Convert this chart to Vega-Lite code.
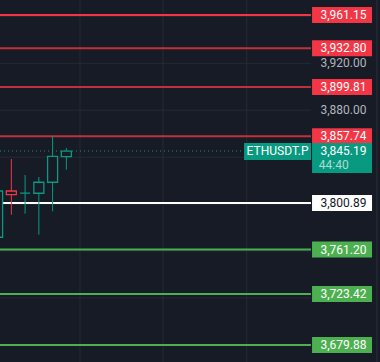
{
  "$schema": "https://vega.github.io/schema/vega-lite/v6.json",
  "width": 380,
  "height": 362,
  "padding": 0,
  "autosize": {"type": "none"},
  "background": "#171b26",
  "config": {"view": {"stroke": null}, "text": {"font": "Roboto", "fontSize": 12}, "scale": {"continuousPadding": 0}},
  "datasets": {
    "levels": [
      {"price": 3961.15, "lvl": "R4"},
      {"price": 3932.80, "lvl": "R3"},
      {"price": 3899.81, "lvl": "R2"},
      {"price": 3857.74, "lvl": "R1"},
      {"price": 3800.89, "lvl": "P"},
      {"price": 3761.20, "lvl": "S1"},
      {"price": 3723.42, "lvl": "S2"},
      {"price": 3679.88, "lvl": "S3"}
    ],
    "candles": [
      {"t": 0, "open": 3771.7, "close": 3811.15, "high": 3815.0, "low": 3765.0},
      {"t": 1, "open": 3811.15, "close": 3808.0, "high": 3838.4, "low": 3790.9},
      {"t": 2, "open": 3809.4, "close": 3809.4, "high": 3824.8, "low": 3791.8},
      {"t": 3, "open": 3809.2, "close": 3818.6, "high": 3823.1, "low": 3773.9},
      {"t": 4, "open": 3818.6, "close": 3840.7, "high": 3858.0, "low": 3793.8},
      {"t": 5, "open": 3840.4, "close": 3845.19, "high": 3847.8, "low": 3829.3}
    ],
    "grid": [
      {"price": 3960}, {"price": 3920}, {"price": 3880}, {"price": 3840},
      {"price": 3800}, {"price": 3760}, {"price": 3720}, {"price": 3680}
    ],
    "vgrid": [{"t": 5.99}, {"t": 12.03}, {"t": 18.12}],
    "axisLabels": [{"price": 3920}, {"price": 3880}],
    "last": [{"price": 3845.19, "symbol": "ETHUSDT.P", "countdown": "44:40"}]
  },
  "resolve": {"scale": {"color": "independent", "fill": "independent", "stroke": "independent"}},
  "layer": [
    {
      "data": {"name": "grid"},
      "mark": {"type": "rule", "color": "#262a35", "strokeWidth": 1},
      "encoding": {
        "y": {"field": "price", "type": "quantitative", "scale": {"domain": [3665.39, 3973.93], "nice": false, "zero": false, "padding": 0}, "axis": null},
        "x": {"datum": 0.175, "type": "quantitative", "scale": {"domain": [0.175, 27.811], "nice": false, "zero": false, "padding": 0}, "axis": null},
        "x2": {"datum": 22.79}
      }
    },
    {
      "data": {"name": "vgrid"},
      "mark": {"type": "rule", "color": "#262a35", "strokeWidth": 1},
      "encoding": {
        "x": {"field": "t", "type": "quantitative", "scale": {"domain": [0.175, 27.811], "nice": false, "zero": false, "padding": 0}, "axis": null}
      }
    },
    {
      "data": {"values": [{"t": 27.59}]},
      "mark": {"type": "rule", "color": "#2a2e39", "strokeWidth": 1},
      "encoding": {
        "x": {"field": "t", "type": "quantitative", "scale": {"domain": [0.175, 27.811], "nice": false, "zero": false, "padding": 0}, "axis": null}
      }
    },
    {
      "data": {"name": "axisLabels"},
      "mark": {"type": "text", "color": "#b2b5be", "align": "center", "baseline": "middle"},
      "encoding": {
        "y": {"field": "price", "type": "quantitative", "scale": {"domain": [3665.39, 3973.93], "nice": false, "zero": false, "padding": 0}, "axis": null},
        "x": {"datum": 25.15, "type": "quantitative", "scale": {"domain": [0.175, 27.811], "nice": false, "zero": false, "padding": 0}, "axis": null},
        "text": {"field": "price", "type": "quantitative", "format": ",.2f"}
      }
    },
    {
      "data": {"name": "levels"},
      "mark": {"type": "rule", "strokeWidth": 2},
      "encoding": {
        "y": {"field": "price", "type": "quantitative", "scale": {"domain": [3665.39, 3973.93], "nice": false, "zero": false, "padding": 0}, "axis": null},
        "x": {"datum": 0.175, "type": "quantitative", "scale": {"domain": [0.175, 27.811], "nice": false, "zero": false, "padding": 0}, "axis": null},
        "x2": {"datum": 22.79},
        "stroke": {"field": "lvl", "type": "nominal", "legend": null,
          "scale": {"domain": ["R4", "R3", "R2", "R1", "P", "S1", "S2", "S3"],
            "range": ["#f23645", "#c2303b", "#c2303b", "#c2303b", "#ffffff", "#4caf50", "#4caf50", "#4caf50"]}}
      }
    },
    {
      "data": {"name": "last"},
      "mark": {"type": "rule", "color": "#089981", "strokeWidth": 1, "strokeDash": [1, 3]},
      "encoding": {
        "y": {"field": "price", "type": "quantitative", "scale": {"domain": [3665.39, 3973.93], "nice": false, "zero": false, "padding": 0}, "axis": null},
        "x": {"datum": 0.175, "type": "quantitative", "scale": {"domain": [0.175, 27.811], "nice": false, "zero": false, "padding": 0}, "axis": null},
        "x2": {"datum": 17.92}
      }
    },
    {
      "data": {"name": "candles"},
      "mark": {"type": "rule", "strokeWidth": 1},
      "encoding": {
        "x": {"field": "t", "type": "quantitative", "scale": {"domain": [0.175, 27.811], "nice": false, "zero": false, "padding": 0}, "axis": null},
        "y": {"field": "low", "type": "quantitative", "scale": {"domain": [3665.39, 3973.93], "nice": false, "zero": false, "padding": 0}, "axis": null},
        "y2": {"field": "high"},
        "stroke": {"condition": {"test": "datum.close < datum.open", "value": "#f23645"}, "value": "#089981"}
      }
    },
    {
      "data": {"name": "candles"},
      "mark": {"type": "bar", "width": 10, "fill": "#171b26", "strokeWidth": 1.3},
      "encoding": {
        "x": {"field": "t", "type": "quantitative", "scale": {"domain": [0.175, 27.811], "nice": false, "zero": false, "padding": 0}, "axis": null},
        "y": {"field": "open", "type": "quantitative", "scale": {"domain": [3665.39, 3973.93], "nice": false, "zero": false, "padding": 0}, "axis": null},
        "y2": {"field": "close"},
        "stroke": {"condition": {"test": "datum.close < datum.open", "value": "#f23645"}, "value": "#089981"}
      }
    },
    {
      "data": {"name": "levels"},
      "mark": {"type": "point", "filled": true, "opacity": 1, "size": 3600, "shape": "M-1,-0.267H1V0.267H-1Z"},
      "encoding": {
        "y": {"field": "price", "type": "quantitative", "scale": {"domain": [3665.39, 3973.93], "nice": false, "zero": false, "padding": 0}, "axis": null},
        "x": {"datum": 25.05, "type": "quantitative", "scale": {"domain": [0.175, 27.811], "nice": false, "zero": false, "padding": 0}, "axis": null},
        "fill": {"field": "lvl", "type": "nominal", "legend": null,
          "scale": {"domain": ["R4", "R3", "R2", "R1", "P", "S1", "S2", "S3"],
            "range": ["#f23645", "#f23645", "#f23645", "#f23645", "#ffffff", "#4caf50", "#4caf50", "#4caf50"]}}
      }
    },
    {
      "data": {"name": "levels"},
      "mark": {"type": "text", "align": "center", "baseline": "middle"},
      "encoding": {
        "y": {"field": "price", "type": "quantitative", "scale": {"domain": [3665.39, 3973.93], "nice": false, "zero": false, "padding": 0}, "axis": null},
        "x": {"datum": 25.15, "type": "quantitative", "scale": {"domain": [0.175, 27.811], "nice": false, "zero": false, "padding": 0}, "axis": null},
        "text": {"field": "price", "type": "quantitative", "format": ",.2f"},
        "color": {"field": "lvl", "type": "nominal", "legend": null,
          "scale": {"domain": ["R4", "R3", "R2", "R1", "P", "S1", "S2", "S3"],
            "range": ["#ffffff", "#ffffff", "#ffffff", "#ffffff", "#131722", "#ffffff", "#ffffff", "#ffffff"]}}
      }
    },
    {
      "data": {"name": "last"},
      "mark": {"type": "point", "filled": true, "opacity": 1, "size": 3600, "shape": "M-1,-0.267H1V0.733H-1Z", "color": "#089981"},
      "encoding": {
        "y": {"field": "price", "type": "quantitative", "scale": {"domain": [3665.39, 3973.93], "nice": false, "zero": false, "padding": 0}, "axis": null},
        "x": {"datum": 25.05, "type": "quantitative", "scale": {"domain": [0.175, 27.811], "nice": false, "zero": false, "padding": 0}, "axis": null}
      }
    },
    {
      "data": {"name": "last"},
      "mark": {"type": "point", "filled": true, "opacity": 1, "size": 4489, "shape": "M-1,-0.24H1V0.27H-1Z", "color": "#089981"},
      "encoding": {
        "y": {"field": "price", "type": "quantitative", "scale": {"domain": [3665.39, 3973.93], "nice": false, "zero": false, "padding": 0}, "axis": null},
        "x": {"datum": 20.36, "type": "quantitative", "scale": {"domain": [0.175, 27.811], "nice": false, "zero": false, "padding": 0}, "axis": null}
      }
    },
    {
      "data": {"name": "last"},
      "mark": {"type": "text", "align": "center", "baseline": "middle", "color": "#ffffff", "fontSize": 12},
      "encoding": {
        "y": {"field": "price", "type": "quantitative", "scale": {"domain": [3665.39, 3973.93], "nice": false, "zero": false, "padding": 0}, "axis": null},
        "x": {"datum": 20.36, "type": "quantitative", "scale": {"domain": [0.175, 27.811], "nice": false, "zero": false, "padding": 0}, "axis": null},
        "text": {"field": "symbol"}
      }
    },
    {
      "data": {"name": "last"},
      "mark": {"type": "text", "align": "center", "baseline": "middle", "color": "#ffffff"},
      "encoding": {
        "y": {"field": "price", "type": "quantitative", "scale": {"domain": [3665.39, 3973.93], "nice": false, "zero": false, "padding": 0}, "axis": null},
        "x": {"datum": 25.15, "type": "quantitative", "scale": {"domain": [0.175, 27.811], "nice": false, "zero": false, "padding": 0}, "axis": null},
        "text": {"field": "price", "type": "quantitative", "format": ",.2f"}
      }
    },
    {
      "data": {"name": "last"},
      "mark": {"type": "text", "align": "center", "baseline": "middle", "color": "#a9ddd0", "dy": 14},
      "encoding": {
        "y": {"field": "price", "type": "quantitative", "scale": {"domain": [3665.39, 3973.93], "nice": false, "zero": false, "padding": 0}, "axis": null},
        "x": {"datum": 24.45, "type": "quantitative", "scale": {"domain": [0.175, 27.811], "nice": false, "zero": false, "padding": 0}, "axis": null},
        "text": {"field": "countdown"}
      }
    }
  ]
}
